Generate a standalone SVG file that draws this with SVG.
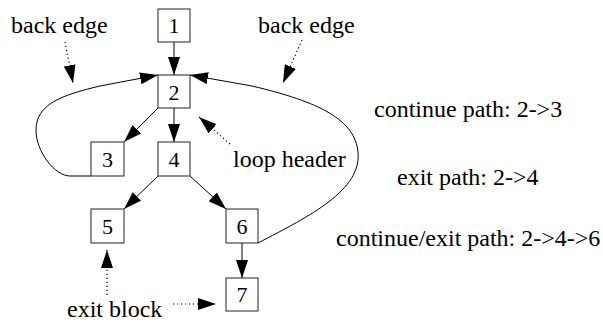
<svg xmlns="http://www.w3.org/2000/svg" width="603" height="323" viewBox="0 0 603 323">
<style>
.box{fill:#fff;stroke:#222;stroke-width:1}
.nl{font-family:"Liberation Serif","Times New Roman",serif;font-size:22px;text-anchor:middle;fill:#000}
.lb{font-family:"Liberation Serif","Times New Roman",serif;font-size:24px;fill:#000}
.e{fill:none;stroke:#000;stroke-width:1}
.d{fill:none;stroke:#000;stroke-width:1.2;stroke-dasharray:1.2,2.8}
</style>
<defs>
<marker id="ah" markerUnits="userSpaceOnUse" markerWidth="18" markerHeight="12" refX="18" refY="6" orient="auto">
<path d="M0,0 L18,6 L0,12 z" fill="#000" stroke="none"/>
</marker>
</defs>
<g id="connectors">
<line class="e" x1="174" y1="42" x2="174" y2="75" marker-end="url(#ah)"/>
<line class="e" x1="158" y1="108" x2="124" y2="142" marker-end="url(#ah)"/>
<line class="e" x1="174" y1="108" x2="174" y2="142" marker-end="url(#ah)"/>
<line class="e" x1="158" y1="176" x2="124" y2="209" marker-end="url(#ah)"/>
<line class="e" x1="190" y1="176" x2="226" y2="209" marker-end="url(#ah)"/>
<line class="e" x1="242" y1="243" x2="242" y2="278" marker-end="url(#ah)"/>
<path class="e" d="M91,176 L70,176 C55,176 36,152 36,130 C36,104 62,95 100,86 L158,75" marker-end="url(#ah)"/>
<path class="e" d="M258,243 C310,216 362,190 358,152 C355,120 320,102 252,86 L190,75" marker-end="url(#ah)"/>
<line class="d" x1="65" y1="42" x2="73" y2="83" marker-end="url(#ah)"/>
<line class="d" x1="302" y1="40" x2="283" y2="83" marker-end="url(#ah)"/>
<line class="d" x1="230" y1="144" x2="199" y2="117" marker-end="url(#ah)"/>
<line class="d" x1="107" y1="295" x2="107" y2="250" marker-end="url(#ah)"/>
<line class="d" x1="173" y1="304" x2="216" y2="304" marker-end="url(#ah)"/>
</g>
<g id="n1"><rect class="box" x="158" y="9" width="32" height="33"/><text class="nl" x="174" y="33">1</text></g>
<g id="n2"><rect class="box" x="158" y="75" width="32" height="33"/><text class="nl" x="174" y="100">2</text></g>
<g id="n3"><rect class="box" x="91" y="142" width="33" height="34"/><text class="nl" x="107.5" y="167">3</text></g>
<g id="n4"><rect class="box" x="158" y="142" width="32" height="34"/><text class="nl" x="174" y="167">4</text></g>
<g id="n5"><rect class="box" x="91" y="209" width="33" height="34"/><text class="nl" x="107.5" y="234">5</text></g>
<g id="n6"><rect class="box" x="226" y="209" width="32" height="34"/><text class="nl" x="242" y="234">6</text></g>
<g id="n7"><rect class="box" x="226" y="278" width="32" height="33"/><text class="nl" x="242" y="302">7</text></g>
<g id="labels">
<text class="lb" x="11" y="33">back edge</text>
<text class="lb" x="258" y="33">back edge</text>
<text class="lb" x="233" y="167">loop header</text>
<text class="lb" x="67" y="317">exit block</text>
<text class="lb" x="374" y="117">continue path: 2-&gt;3</text>
<text class="lb" x="397" y="185">exit path: 2-&gt;4</text>
<text class="lb" x="336" y="246">continue/exit path: 2-&gt;4-&gt;6</text>
</g>
</svg>
